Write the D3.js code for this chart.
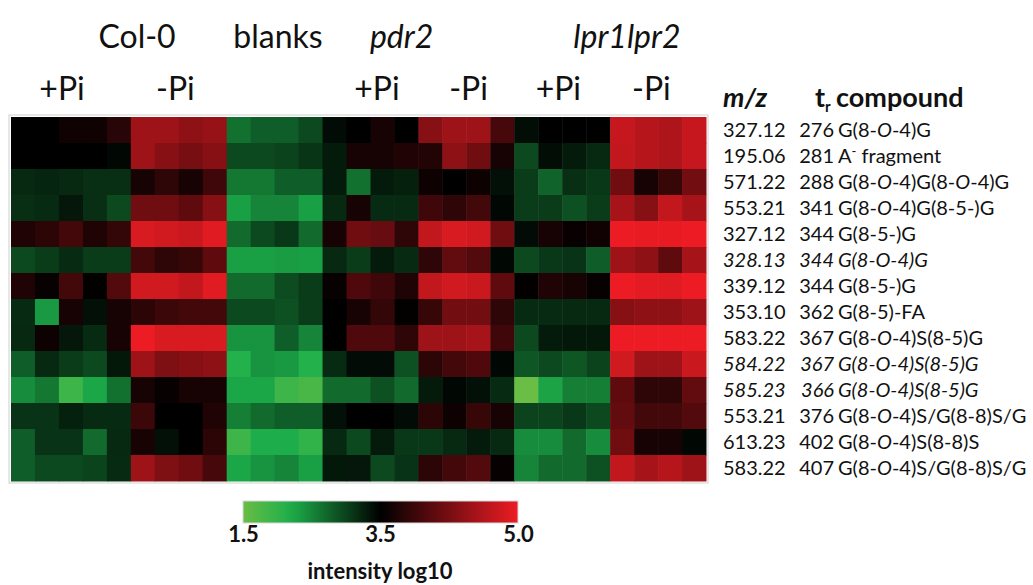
<!DOCTYPE html>
<html>
<head>
<meta charset="utf-8">
<script src="https://cdn.jsdelivr.net/npm/d3@7"></script>
<style>
  body { margin: 0; background: #fff; }
  text { font-family: Lato, 'Open Sans', sans-serif; fill: #111; }
</style>
</head>
<body>
<div id="chart"></div>
<script>
const svgWidth = 1033;
const svgHeight = 585;

// Sample groups, number of replicate columns in each
const genotypes = ['Col-0', 'blanks', 'pdr2', 'lpr1lpr2'];
const conditions = ['+Pi', '-Pi', '', '+Pi', '-Pi', '+Pi', '-Pi'];
const replicates = [5, 4, 4, 4, 4, 4, 4];

// Compounds (rows)
const mz = ['327.12', '195.06', '571.22', '553.21', '327.12', '328.13', '339.12',
    '353.10', '583.22', '584.22', '585.23', '553.21', '613.23', '583.22'];
const tr = ['276', '281', '288', '341', '344', '344', '344', '362', '367', '367', '366', '376', '402', '407'];
const compounds = ['G(8-O-4)G', 'A- fragment', 'G(8-O-4)G(8-O-4)G', 'G(8-O-4)G(8-5-)G', 'G(8-5-)G',
    'G(8-O-4)G', 'G(8-5-)G', 'G(8-5)-FA', 'G(8-O-4)S(8-5)G', 'G(8-O-4)S(8-5)G',
    'G(8-O-4)S(8-5)G', 'G(8-O-4)S/G(8-8)S/G', 'G(8-O-4)S(8-8)S', 'G(8-O-4)S/G(8-8)S/G'];
const italicRows = [5, 9, 10];

// intensity (log10) per compound, columns in sample order
const intensity = [
    [3.5, 3.5, 3.6, 3.6, 3.75, 4.5, 4.5, 4.4, 4.45, 2.65, 2.8, 2.8, 2.95, 3.42, 3.5, 3.65, 3.5, 4.35, 4.5, 4.5, 3.95, 3.4, 3.5, 3.5, 3.5, 4.75, 4.65, 4.6, 4.75],
    [3.5, 3.5, 3.5, 3.5, 3.45, 4.5, 4.35, 4.25, 4.35, 2.95, 2.95, 3.0, 3.1, 3.3, 3.65, 3.65, 3.7, 3.72, 4.4, 4.2, 3.65, 2.95, 3.4, 3.3, 3.2, 4.72, 4.65, 4.6, 4.75],
    [3.2, 3.22, 3.2, 3.15, 3.15, 3.65, 3.8, 3.65, 3.9, 2.6, 2.6, 2.8, 2.8, 3.3, 2.65, 3.3, 3.25, 3.58, 3.5, 3.58, 3.38, 3.05, 2.75, 3.15, 3.08, 4.2, 3.65, 3.85, 4.22],
    [3.15, 3.18, 3.33, 3.15, 2.95, 4.2, 4.2, 4.1, 4.35, 2.3, 2.5, 2.5, 2.3, 3.2, 3.65, 3.18, 3.18, 3.9, 3.8, 3.92, 3.45, 3.05, 3.05, 2.9, 3.05, 4.55, 4.35, 4.72, 4.55],
    [3.7, 3.78, 3.92, 3.7, 3.82, 4.87, 4.82, 4.77, 4.92, 2.7, 2.95, 3.08, 2.7, 3.65, 4.2, 4.15, 3.8, 4.72, 4.87, 4.82, 4.2, 3.42, 3.65, 3.56, 3.6, 5.0, 4.97, 4.97, 5.0],
    [2.95, 3.05, 3.18, 3.05, 3.05, 3.92, 3.8, 3.85, 4.1, 2.3, 2.3, 2.33, 2.3, 3.2, 3.05, 3.3, 3.18, 3.8, 4.12, 4.02, 3.45, 2.95, 3.08, 3.12, 2.8, 4.5, 4.4, 4.1, 4.55],
    [3.7, 3.55, 3.92, 3.52, 4.02, 4.82, 4.82, 4.72, 4.92, 2.7, 2.7, 2.93, 3.05, 3.55, 4.0, 3.9, 3.7, 4.72, 4.82, 4.77, 4.1, 3.52, 3.7, 3.65, 3.55, 5.0, 4.95, 4.92, 5.0],
    [3.18, 2.35, 3.65, 3.38, 3.65, 3.78, 3.88, 3.92, 3.92, 2.95, 2.95, 2.9, 3.05, 3.5, 3.65, 3.82, 3.52, 3.85, 4.22, 4.22, 3.8, 3.18, 3.18, 3.2, 3.2, 4.35, 4.4, 4.4, 4.5],
    [3.2, 3.58, 3.33, 3.18, 3.65, 5.0, 4.87, 4.87, 4.87, 2.4, 2.4, 2.8, 2.5, 3.5, 4.0, 4.0, 3.8, 4.5, 4.5, 4.55, 3.9, 2.95, 3.3, 3.32, 3.32, 5.0, 5.0, 5.0, 5.0],
    [2.8, 3.2, 3.05, 2.95, 3.32, 4.5, 4.3, 4.35, 4.4, 2.13, 2.4, 2.35, 2.13, 3.18, 3.42, 3.42, 2.9, 3.78, 3.92, 4.0, 3.45, 2.85, 2.95, 2.85, 3.0, 4.82, 4.5, 4.5, 4.77],
    [2.45, 2.6, 1.9, 2.25, 2.65, 3.65, 3.55, 3.65, 3.65, 2.25, 2.25, 1.9, 1.8, 2.7, 2.7, 2.9, 2.7, 3.3, 3.45, 3.38, 3.18, 1.5, 2.28, 2.55, 2.55, 4.1, 3.8, 3.8, 4.12],
    [3.12, 3.12, 3.25, 3.18, 3.18, 3.88, 3.5, 3.5, 3.7, 2.55, 2.7, 2.8, 2.8, 3.38, 3.5, 3.5, 3.42, 3.78, 3.58, 3.85, 3.65, 3.0, 3.0, 3.08, 2.95, 4.12, 3.92, 3.92, 4.02],
    [2.8, 3.12, 3.12, 2.7, 3.2, 3.65, 3.38, 3.5, 3.78, 1.9, 2.2, 2.2, 2.0, 3.2, 2.95, 3.3, 3.08, 3.08, 3.2, 3.3, 3.2, 2.45, 2.45, 2.7, 2.45, 4.2, 3.65, 3.65, 3.45],
    [2.8, 2.95, 2.95, 3.0, 3.18, 4.5, 4.3, 4.2, 3.95, 2.25, 2.4, 2.5, 2.3, 3.32, 3.33, 2.95, 3.12, 3.78, 3.92, 4.02, 3.55, 2.5, 2.7, 2.7, 2.9, 4.72, 4.55, 4.65, 4.5]
];

// colour key
const legendTicks = [1.5, 3.5, 5.0];

const nCols = d3.sum(replicates);

const svg = d3.select('#chart')
    .append('svg')
    .attr('width', svgWidth)
    .attr('height', svgHeight);

// Step 1: scales
// ==============================
const xBand = d3.scaleBand()
    .domain(d3.range(nCols))
    .range([11, 706]);

// fractional column position -> pixels (for header labels)
const xCol = d3.scaleLinear()
    .domain([0, nCols])
    .range([11, 706]);

const yBand = d3.scaleBand()
    .domain(d3.range(mz.length))
    .range([117, 481]);

const color = d3.scaleLinear()
    .domain([1.5, 2.18, 3.5, 5.0])
    .range(['#6abd45', '#1db04b', '#000000', '#ed1c24'])
    .clamp(true);

// Step 2: frame + cells
// ==============================
svg.append('rect')
    .attr('x', xBand.range()[0] - 2)
    .attr('y', yBand.range()[0] - 2)
    .attr('width', xBand.range()[1] - xBand.range()[0] + 4)
    .attr('height', yBand.range()[1] - yBand.range()[0] + 4)
    .attr('fill', 'none')
    .attr('stroke', '#d8d8d8')
    .attr('stroke-width', 1.2);

const cells = [];
intensity.forEach((row, r) => row.forEach((v, c) => cells.push({ r, c, v })));

svg.append('g')
    .selectAll('rect')
    .data(cells)
    .enter()
    .append('rect')
    .attr('x', d => xBand(d.c))
    .attr('y', d => yBand(d.r))
    .attr('width', xBand.bandwidth() + 0.5)
    .attr('height', yBand.bandwidth() + 0.5)
    .attr('fill', d => color(d.v));

// Step 3: header labels
// ==============================
const starts = d3.cumsum([0].concat(replicates));
const genoCols = [5.26, 11.14, 16.3, 25.7];
const condShift = [-0.37, -0.14, 0, 0.27, 0.09, -0.16, -0.28];

svg.append('g')
    .selectAll('text')
    .data(genotypes)
    .enter()
    .append('text')
    .attr('x', (d, i) => xCol(genoCols[i]))
    .attr('y', 48)
    .attr('text-anchor', 'middle')
    .style('font-size', '32px')
    .style('font-style', (d, i) => i >= 2 ? 'italic' : 'normal')
    .text(d => d);

svg.append('g')
    .selectAll('text')
    .data(conditions)
    .enter()
    .append('text')
    .attr('x', (d, i) => xCol(starts[i] + replicates[i] / 2 + condShift[i]))
    .attr('y', 100)
    .attr('text-anchor', 'middle')
    .style('font-size', '32px')
    .text(d => d);

// Step 4: compound table
// ==============================
const table = svg.append('g');

const head = table.append('text')
    .attr('y', 107)
    .style('font-size', '27px')
    .style('font-weight', 'bold');
head.append('tspan').attr('x', 723).style('font-style', 'italic').text('m/z');
head.append('tspan').attr('x', 815).text('t');
head.append('tspan').attr('dy', 5).style('font-size', '15px').text('r');
head.append('tspan').attr('dy', -5).attr('x', 836).text('compound');

const rows = table.selectAll('g.row')
    .data(mz.map((m, i) => ({ i, m, t: tr[i], c: compounds[i] })))
    .enter()
    .append('g')
    .classed('row', true)
    .attr('transform', d => `translate(0, ${yBand(d.i) + yBand.bandwidth() / 2 + 7})`)
    .style('font-size', '20px')
    .style('font-style', d => italicRows.includes(d.i) ? 'italic' : 'normal');

rows.append('text')
    .attr('x', 723)
    .text(d => d.m);

rows.append('text')
    .attr('x', 834)
    .attr('text-anchor', 'end')
    .text(d => d.t);

rows.append('text')
    .attr('x', 838)
    .each(function (d) {
        const t = d3.select(this);
        if (d.c.startsWith('A-')) {
            t.append('tspan').text('A');
            t.append('tspan').attr('dy', -7).style('font-size', '13px').text('-');
            t.append('tspan').attr('dy', 7).text(' fragment');
            return;
        }
        const parts = d.c.split('-O-');
        parts.forEach((p, k) => {
            t.append('tspan').text(p);
            if (k < parts.length - 1) {
                t.append('tspan').text('-');
                t.append('tspan').style('font-style', 'italic').text('O');
                t.append('tspan').text('-');
            }
        });
    });

// Step 5: colour key
// ==============================
const legendX = d3.scaleLinear()
    .domain(legendTicks)
    .range([243, 380, 518]);

const grad = svg.append('defs')
    .append('linearGradient')
    .attr('id', 'key');
d3.range(0, 1.0001, 0.05).forEach(t => {
    grad.append('stop')
        .attr('offset', `${t * 100}%`)
        .attr('stop-color', color(legendX.invert(243 + t * 275)));
});

svg.append('rect')
    .attr('x', legendX.range()[0])
    .attr('y', 501)
    .attr('width', legendX.range()[2] - legendX.range()[0])
    .attr('height', 22)
    .attr('fill', 'url(#key)')
    .attr('stroke', '#d8d8d8');

const keyAxis = svg.append('g')
    .attr('transform', 'translate(0, 523)')
    .call(d3.axisBottom(legendX).tickValues(legendTicks).tickFormat(d3.format('.1f')).tickSize(0));
keyAxis.select('.domain').remove();
keyAxis.selectAll('text')
    .attr('dy', 0)
    .attr('y', 19)
    .style('font-family', 'Lato, sans-serif')
    .style('font-size', '22px')
    .style('font-weight', 'bold')
    .attr('fill', '#111');

svg.append('text')
    .attr('x', 380)
    .attr('y', 579)
    .attr('text-anchor', 'middle')
    .style('font-size', '22px')
    .style('font-weight', 'bold')
    .text('intensity log10');
</script>
</body>
</html>
